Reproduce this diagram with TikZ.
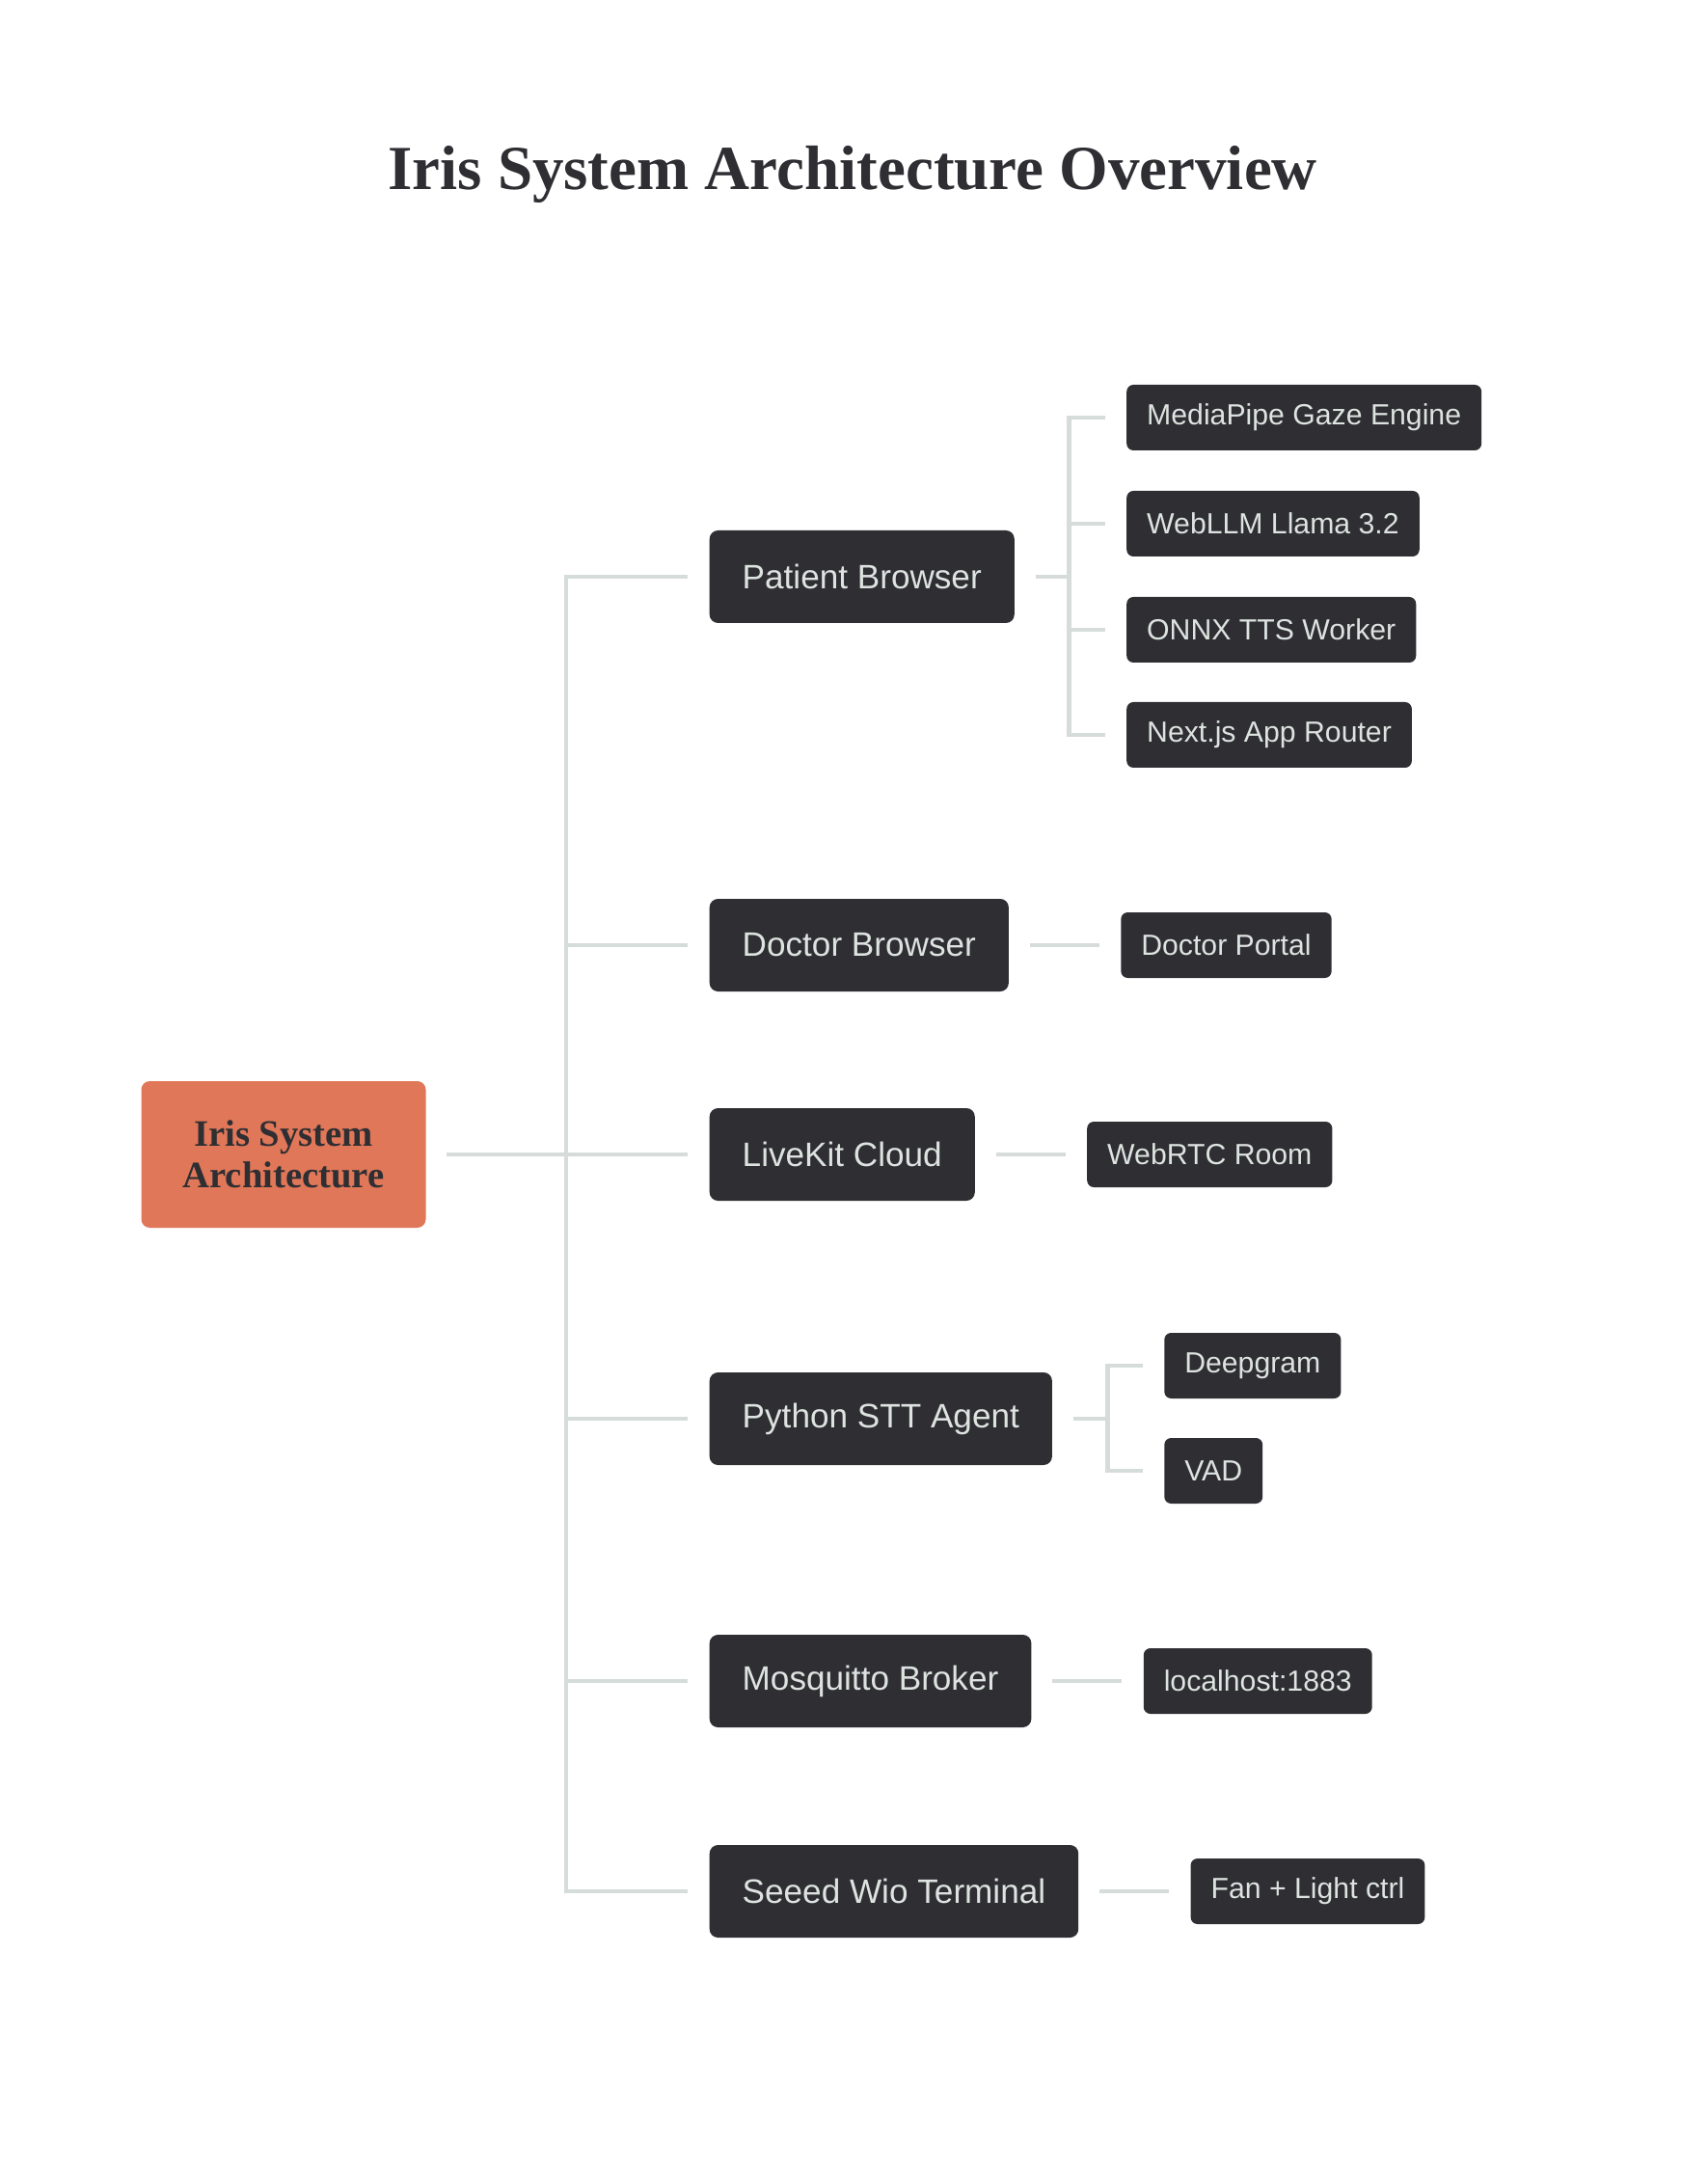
\documentclass[tikz,border=0pt]{standalone}
\usepackage{fontspec}
\setmainfont{Liberation Serif}
\newfontfamily\boxfont{Liberation Sans}
\usepackage{tikz}
\usetikzlibrary{positioning}
\definecolor{irisCoral}{RGB}{223,119,88}
\definecolor{irisDark}{RGB}{46,46,51}
\definecolor{irisText}{RGB}{221,227,223}
\definecolor{irisLine}{RGB}{214,220,217}

\begin{document}
\begin{tikzpicture}[
    rootbox/.style={fill=irisCoral, rounded corners=2.5pt, minimum width=2.95cm, minimum height=1.52cm,
        align=center, text=irisDark, font=\fontsize{11}{12.2}\selectfont\bfseries},
    midbox/.style={fill=irisDark, rounded corners=2.5pt, inner xsep=0.34cm, minimum height=0.96cm,
        text=irisText, font=\boxfont\fontsize{10}{12}\selectfont},
    leafbox/.style={fill=irisDark, rounded corners=2pt, inner xsep=0.21cm, minimum height=0.68cm,
        text=irisText, font=\boxfont\fontsize{8.6}{10}\selectfont},
    link/.style={draw=irisLine, line width=1.3pt, shorten <=0.21cm, shorten >=0.22cm}
]
    \useasboundingbox (0,0) rectangle (17.7,-22.5);

    \node[text=irisDark, font=\fontsize{18.5}{22}\selectfont\bfseries] (title) at (8.84,-1.81)
        {Iris System Architecture Overview};

    \node[rootbox] (root) at (2.94,-11.97) {Iris System\\Architecture};

    % second level
    \node[midbox, anchor=west] (pb) at (7.35,-5.98)  {Patient Browser};
    \node[midbox, anchor=west] (db) at (7.35,-9.80)  {Doctor Browser};
    \node[midbox, anchor=west] (lk) at (7.35,-11.97) {LiveKit Cloud};
    \node[midbox, anchor=west] (py) at (7.35,-14.71) {Python STT Agent};
    \node[midbox, anchor=west] (mq) at (7.35,-17.43) {Mosquitto Broker};
    \node[midbox, anchor=west] (sw) at (7.35,-19.61) {Seeed Wio Terminal};

    % leaves
    \node[leafbox, right=1.15cm of pb.east, yshift=1.65cm]  (mp)  {MediaPipe Gaze Engine};
    \node[leafbox, right=1.15cm of pb.east, yshift=0.55cm]  (llm) {WebLLM Llama 3.2};
    \node[leafbox, right=1.15cm of pb.east, yshift=-0.55cm] (tts) {ONNX TTS Worker};
    \node[leafbox, right=1.15cm of pb.east, yshift=-1.64cm] (nx)  {Next.js App Router};
    \node[leafbox, right=1.15cm of db.east] (dp)  {Doctor Portal};
    \node[leafbox, right=1.15cm of lk.east] (rtc) {WebRTC Room};
    \node[leafbox, right=1.15cm of py.east, yshift=0.55cm]  (dg)  {Deepgram};
    \node[leafbox, right=1.15cm of py.east, yshift=-0.54cm] (vad) {VAD};
    \node[leafbox, right=1.15cm of mq.east] (lh)  {localhost:1883};
    \node[leafbox, right=1.15cm of sw.east] (fan) {Fan + Light ctrl};

    \coordinate (trunk) at (5.87,0);
    \coordinate[right=0.56cm of pb.east] (pbfork);
    \coordinate[right=0.57cm of py.east] (pyfork);

    \foreach \m in {pb,db,lk,py,mq,sw}
        \draw[link] (root.east) -- (root.east -| trunk) |- (\m.west);

    \foreach \l in {mp,llm,tts,nx}
        \draw[link] (pb.east) -- (pbfork) |- (\l.west);
    \foreach \l in {dg,vad}
        \draw[link] (py.east) -- (pyfork) |- (\l.west);

    \draw[link] (db.east) -- (dp.west);
    \draw[link] (lk.east) -- (rtc.west);
    \draw[link] (mq.east) -- (lh.west);
    \draw[link] (sw.east) -- (fan.west);
\end{tikzpicture}
\end{document}
